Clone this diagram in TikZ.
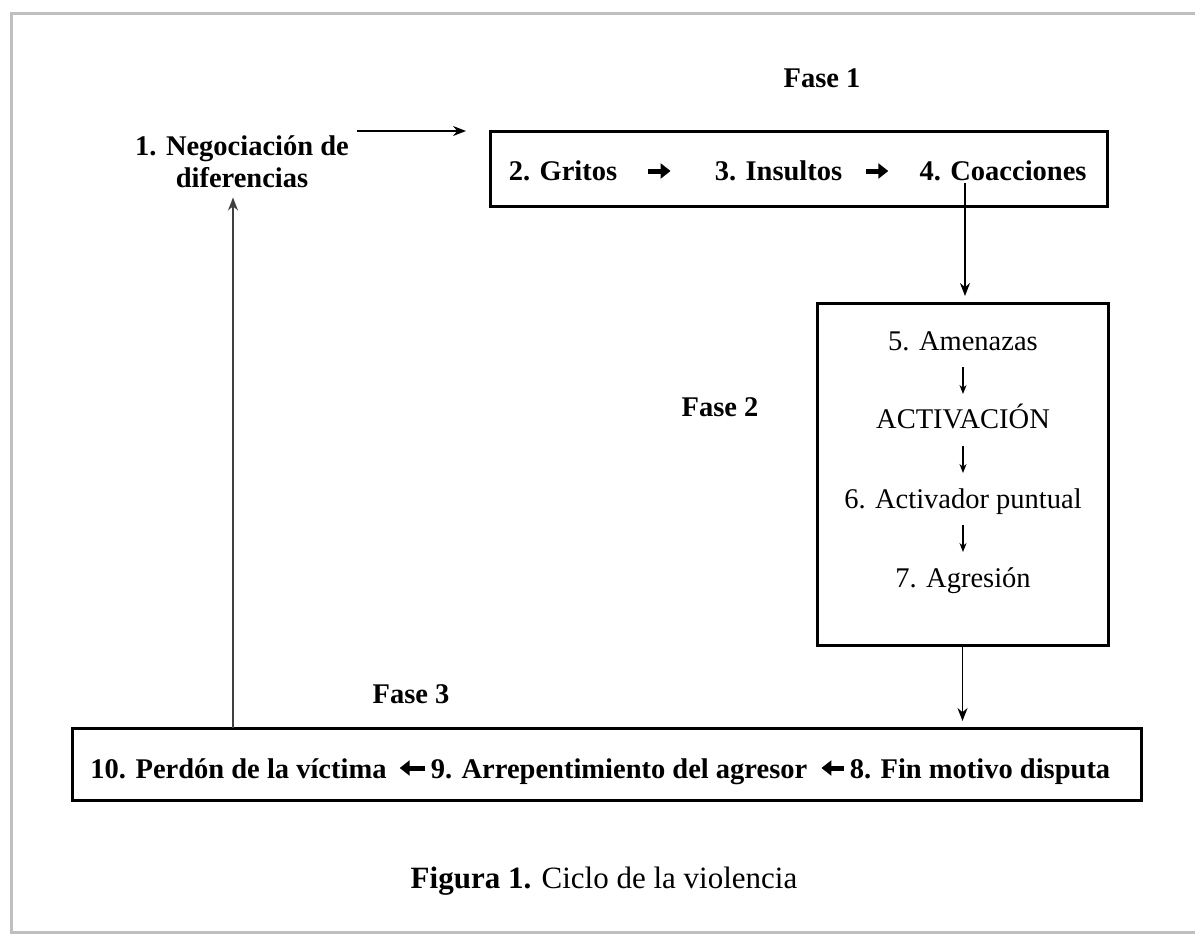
\documentclass[tikz,border=0pt]{standalone}
\usepackage{fontspec}
\setmainfont{Liberation Serif}
\usetikzlibrary{arrows.meta}
\begin{document}
\begin{tikzpicture}[x=1pt,y=-1pt,
  every node/.style={inner sep=0pt, font=\fontsize{28.5}{33}\selectfont},
  bt/.style={font=\fontsize{28.5}{33}\selectfont\bfseries},
  box/.style={draw, line width=3pt, inner sep=0pt, outer sep=0pt},
  arr/.style={line width=1.5pt, -{Stealth[length=13pt,width=10pt]}},
  heavy/.style={line width=5pt, -{Triangle[length=10pt,width=15pt]}},
  smallarr/.style={line width=1.1pt, -{Stealth[length=9pt,width=7pt]}}
]
\useasboundingbox (0,0) rectangle (1195,934);
% outer frame
\draw[black!25, line width=3pt] (1200,14) -- (11,14) -- (11,932) -- (1200,932);

% Fase labels
\node[bt, anchor=base] (f1) at (822,88) {Fase 1};
\node[bt, anchor=base] (f2) at (720,416) {Fase 2};
\node[bt, anchor=base] (f3) at (411,703) {Fase 3};

% node 1
\node[bt, anchor=base] (n1a) at (242,155) {1. Negociación de};
\node[bt, anchor=base] (n1b) at (242,187) {diferencias};

% boxes
\node[box, minimum width=617pt, minimum height=75pt] (b1) at (798.5,168.5) {};
\node[box, minimum width=291pt, minimum height=342pt] (b2) at (962.5,474) {};
\node[box, minimum width=1069pt, minimum height=72pt] (b3) at (606.5,764) {};

% box 1 texts
\node[bt, anchor=base] (g2) at (563,180) {2. Gritos};
\node[bt, anchor=base] (i3) at (778.5,180) {3. Insultos};
\node[bt, anchor=base] (c4) at (1003,180) {4. Coacciones};
\draw[heavy] ([xshift=31pt,yshift=9pt]g2.base east) -- ([xshift=-44pt,yshift=9pt]i3.base west);
\draw[heavy] ([xshift=24pt,yshift=9pt]i3.base east) -- ([xshift=-31pt,yshift=9pt]c4.base west);

% box 2 texts
\node[anchor=base] (a5) at (963,350) {5. Amenazas};
\node[anchor=base] (act) at (963,428) {ACTIVACIÓN};
\node[anchor=base] (p6) at (963,508) {6. Activador puntual};
\node[anchor=base] (ag7) at (963,587) {7. Agresión};
\draw[smallarr] ([yshift=-17pt]a5.base) -- ([yshift=34pt]act.base);
\draw[smallarr] ([yshift=-18pt]act.base) -- ([yshift=35pt]p6.base);
\draw[smallarr] ([yshift=-17pt]p6.base) -- ([yshift=35pt]ag7.base);

% box 3 texts
\node[bt, anchor=base] (p10) at (238.5,778) {10. Perdón de la víctima};
\node[bt, anchor=base] (a9) at (619,778) {9. Arrepentimiento del agresor};
\node[bt, anchor=base] (f8) at (980,778) {8. Fin motivo disputa};
\draw[heavy] ([xshift=-6pt,yshift=10pt]a9.base west) -- ([xshift=13pt,yshift=10pt]p10.base east);
\draw[heavy] ([xshift=-6pt,yshift=10pt]f8.base west) -- ([xshift=14pt,yshift=10pt]a9.base east);

% connectors
\coordinate (c1) at (357,131);
\draw[arr, shorten >=24pt] (c1) -- (c1 -| b1.west);
\coordinate (c2) at (965,183);
\draw[arr, shorten >=7pt] (c2) -- (c2 |- b2.north);
\draw[arr, shorten >=7pt] (b2.south) -- (b2.south |- b3.north);
\coordinate (c3) at (233,728);
\draw[arr, black!75, shorten >=10pt] (c3) -- (c3 |- n1b.south);

% caption
\node[anchor=base, font=\fontsize{31}{36}\selectfont] (cap) at (604,888) {\textbf{Figura 1.} Ciclo de la violencia};
\end{tikzpicture}
\end{document}
